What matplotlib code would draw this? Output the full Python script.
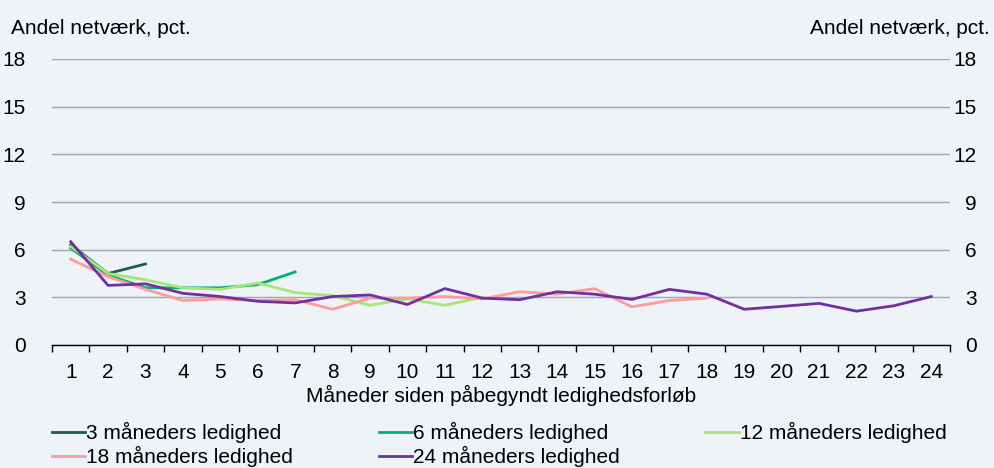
import matplotlib
matplotlib.use("Agg")
import matplotlib.pyplot as plt
import numpy as np

plt.rcParams['font.family'] = ['Liberation Sans', 'DejaVu Sans']

months = list(range(1, 25))
s3 = [6.3, 4.5, 5.1]
s6 = [6.1, 4.4, 3.6, 3.6, 3.6, 3.8, 4.6]
s12 = [6.2, 4.5, 4.1, 3.6, 3.5, 3.9, 3.3, 3.1, 2.5, 2.9, 2.5, 3.0]
s18 = [5.4, 4.3, 3.5, 2.8, 2.9, 2.8, 2.85, 2.25, 2.95, 2.95, 3.05, 2.9,
       3.35, 3.2, 3.55, 2.4, 2.8, 2.95]
s24 = [6.5, 3.75, 3.85, 3.25, 3.05, 2.75, 2.65, 3.05, 3.15, 2.55, 3.55, 2.95,
       2.85, 3.35, 3.2, 2.87, 3.5, 3.2, 2.25, 2.43, 2.62, 2.13, 2.47, 3.05]
labels = ["3 måneders ledighed", "6 måneders ledighed", "12 måneders ledighed",
          "18 måneders ledighed", "24 måneders ledighed"]
colors = ["#1e5c4b", "#00b26e", "#a5e57a", "#ff9a9e", "#7030a0"]
yticks = [0, 3, 6, 9, 12, 15, 18]

FS = 15
bg = "#eef3f7"
fig = plt.figure(figsize=(9.94, 4.68), dpi=100, facecolor=bg)
ax = fig.add_axes([52/994, 1-345/468, (950-52)/994, (345-59)/468], facecolor=bg)

series = [s3, s6, s12, s18, s24]
for s, c, l in zip(series, colors, labels):
    ax.plot(months[:len(s)], s, color=c, lw=2, label=l, solid_joinstyle='round')

ax.set_xlim(0.5, 24.5)
ax.set_ylim(0, 18)
ax.set_yticks(yticks)
ax.yaxis.grid(True, color="#a6a6a6", lw=1)
ax.set_axisbelow(True)
for sp in ["left", "right", "top"]:
    ax.spines[sp].set_visible(False)
ax.spines["bottom"].set_color("black")
ax.spines["bottom"].set_linewidth(1)

ax.set_xticks(months)
ax.set_xticklabels([str(m) for m in months], fontsize=FS)
ax.set_xticks(np.arange(0.5, 25, 1), minor=True)
ax.tick_params(axis="x", which="major", length=0, pad=13)
ax.tick_params(axis="x", which="minor", length=5, color="black", width=1)
ax.tick_params(axis="y", length=0, labelsize=FS, pad=19, labelright=True)
for t in ax.get_yticklabels():
    t.set_ha("right")
ax.set_xlabel("Måneder siden påbegyndt ledighedsforløb", fontsize=FS, labelpad=2)

fig.text(11/994, 1-28/468, "Andel netværk, pct.", fontsize=FS, ha="left", va="center")
fig.text(990/994, 1-28/468, "Andel netværk, pct.", fontsize=FS, ha="right", va="center")

handles, labs = ax.get_legend_handles_labels()
order = [0, 3, 1, 4, 2]
leg = fig.legend([handles[i] for i in order], [labs[i] for i in order],
                 loc="upper left", bbox_to_anchor=(52/994, 1-422/468), ncol=3,
                 frameon=False, fontsize=FS, handlelength=1.6, handletextpad=0.05,
                 columnspacing=4.1, labelspacing=0.15, borderaxespad=0, borderpad=0)

fig.savefig("out.png", dpi=100, facecolor=bg)
